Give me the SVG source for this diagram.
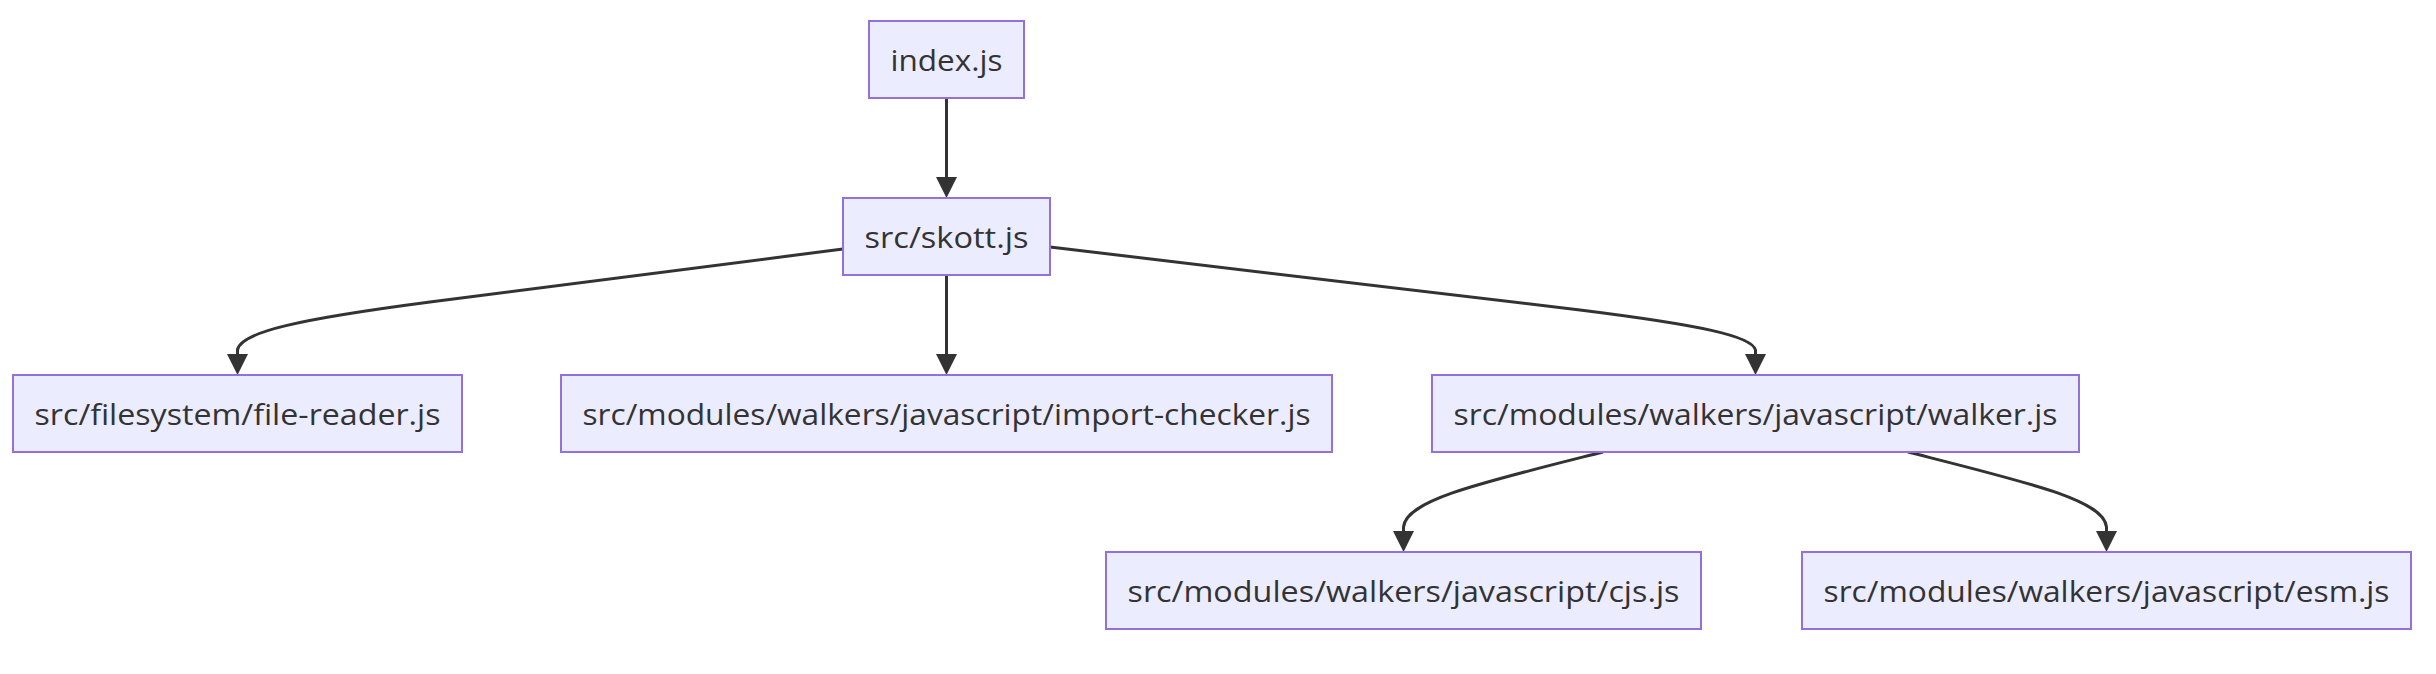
<svg xmlns="http://www.w3.org/2000/svg" width="2436" height="674" viewBox="0 0 2436 674">
<style>
.node rect{fill:#ECECFF;stroke:#9370DB;stroke-width:2}
.node text{fill:#333;font-family:"Open Sans","Liberation Sans",sans-serif;font-size:29px;text-anchor:middle;dominant-baseline:central}
.edge{fill:none;stroke:#333;stroke-width:3}
</style>
<defs>
<marker id="arrow" viewBox="0 0 10 10" refX="0" refY="5" markerUnits="userSpaceOnUse" markerWidth="21" markerHeight="23" orient="auto">
<path d="M0,0 L10,5 L0,10 z" fill="#333"/>
</marker>
</defs>
<g id="connectors">
<path class="edge" marker-end="url(#arrow)" d="M946.5,98 L946.5,177"/>
<path class="edge" marker-end="url(#arrow)" d="M843,249 L430,302 C300,319 240,332 237.5,350 L237.5,354"/>
<path class="edge" marker-end="url(#arrow)" d="M946.5,275 L946.5,354"/>
<path class="edge" marker-end="url(#arrow)" d="M1050,247 L1580,310 C1700,325 1752,336 1755.5,350 L1755.5,354"/>
<path class="edge" marker-end="url(#arrow)" d="M1603,452 C1480,483 1406,500 1403.5,527 L1403.5,531"/>
<path class="edge" marker-end="url(#arrow)" d="M1908,452 C2030,483 2104,500 2106.5,527 L2106.5,531"/>
</g>
<g id="index" class="node"><rect x="869" y="21" width="155" height="77"/><text x="946.5" y="59.5" textLength="112" lengthAdjust="spacingAndGlyphs">index.js</text></g>
<g id="skott" class="node"><rect x="843" y="198" width="207" height="77"/><text x="946.5" y="236.5" textLength="164" lengthAdjust="spacingAndGlyphs">src/skott.js</text></g>
<g id="file-reader" class="node"><rect x="13" y="375" width="449" height="77"/><text x="237.5" y="413.5" textLength="406" lengthAdjust="spacingAndGlyphs">src/filesystem/file-reader.js</text></g>
<g id="import-checker" class="node"><rect x="561" y="375" width="771" height="77"/><text x="946.5" y="413.5" textLength="728" lengthAdjust="spacingAndGlyphs">src/modules/walkers/javascript/import-checker.js</text></g>
<g id="walker" class="node"><rect x="1432" y="375" width="647" height="77"/><text x="1755.5" y="413.5" textLength="604" lengthAdjust="spacingAndGlyphs">src/modules/walkers/javascript/walker.js</text></g>
<g id="cjs" class="node"><rect x="1106" y="552" width="595" height="77"/><text x="1403.5" y="590.5" textLength="552" lengthAdjust="spacingAndGlyphs">src/modules/walkers/javascript/cjs.js</text></g>
<g id="esm" class="node"><rect x="1802" y="552" width="609" height="77"/><text x="2106.5" y="590.5" textLength="566" lengthAdjust="spacingAndGlyphs">src/modules/walkers/javascript/esm.js</text></g>
</svg>
